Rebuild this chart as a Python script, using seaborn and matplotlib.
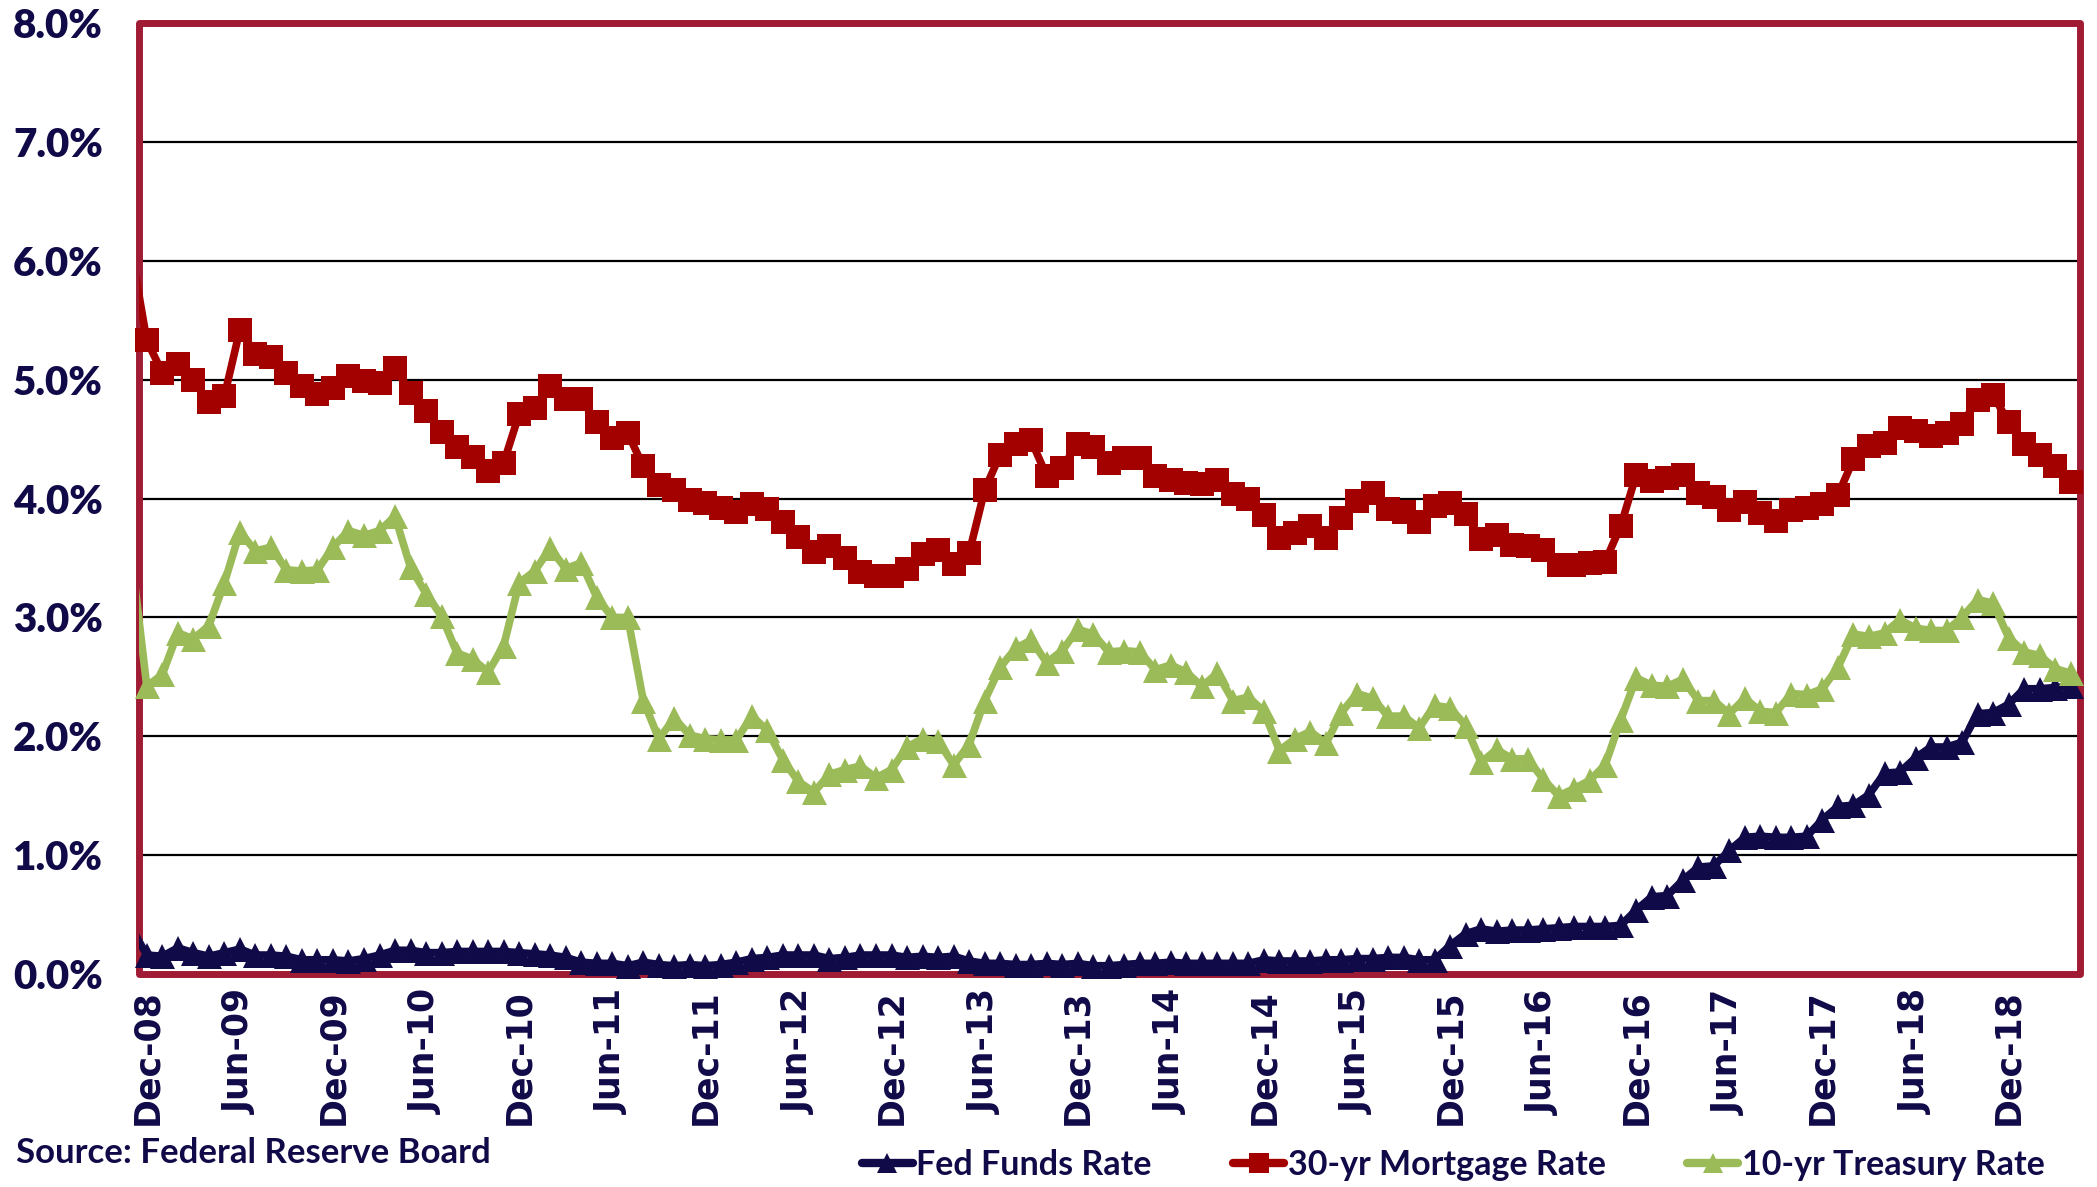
import numpy as np
import pandas as pd
import matplotlib
matplotlib.use("Agg")
import matplotlib.pyplot as plt
from matplotlib.lines import Line2D
from matplotlib.patches import Rectangle
from matplotlib.font_manager import FontProperties
import seaborn as sns

# ---------------- data (monthly, Nov-08 .. Apr-19; Nov-08 only feeds the clipped first segment)
months = pd.date_range("2008-11-01", "2019-04-01", freq="MS")

fed_funds = [0.39, 0.16,
             0.15, 0.22, 0.18, 0.15, 0.18, 0.21, 0.16, 0.16, 0.15, 0.12, 0.12, 0.12,
             0.11, 0.13, 0.16, 0.20, 0.20, 0.18, 0.18, 0.19, 0.19, 0.19, 0.19, 0.18,
             0.17, 0.16, 0.14, 0.10, 0.09, 0.09, 0.07, 0.10, 0.08, 0.07, 0.08, 0.07,
             0.08, 0.10, 0.13, 0.14, 0.16, 0.16, 0.16, 0.13, 0.14, 0.16, 0.16, 0.16,
             0.14, 0.15, 0.14, 0.15, 0.11, 0.09, 0.09, 0.08, 0.08, 0.09, 0.08, 0.09,
             0.07, 0.07, 0.08, 0.09, 0.09, 0.10, 0.09, 0.09, 0.09, 0.09, 0.09, 0.12,
             0.11, 0.11, 0.11, 0.12, 0.12, 0.13, 0.13, 0.14, 0.14, 0.12, 0.12, 0.24,
             0.34, 0.38, 0.36, 0.37, 0.37, 0.38, 0.39, 0.40, 0.40, 0.40, 0.41, 0.54,
             0.65, 0.66, 0.79, 0.90, 0.91, 1.04, 1.15, 1.16, 1.15, 1.15, 1.16, 1.30,
             1.41, 1.42, 1.51, 1.69, 1.70, 1.82, 1.91, 1.91, 1.95, 2.19, 2.20, 2.27,
             2.40, 2.40, 2.41, 2.42]

mortgage = [6.09, 5.33,
            5.06, 5.13, 5.00, 4.81, 4.86, 5.42, 5.22, 5.19, 5.06, 4.95, 4.88, 4.93,
            5.03, 4.99, 4.97, 5.10, 4.89, 4.74, 4.56, 4.43, 4.35, 4.23, 4.30, 4.71,
            4.76, 4.95, 4.84, 4.84, 4.64, 4.51, 4.55, 4.27, 4.11, 4.07, 3.99, 3.96,
            3.92, 3.89, 3.95, 3.91, 3.80, 3.68, 3.55, 3.60, 3.50, 3.38, 3.35, 3.35,
            3.41, 3.53, 3.57, 3.45, 3.54, 4.07, 4.37, 4.46, 4.49, 4.19, 4.26, 4.46,
            4.43, 4.30, 4.34, 4.34, 4.19, 4.16, 4.13, 4.12, 4.16, 4.04, 4.00, 3.86,
            3.67, 3.71, 3.77, 3.67, 3.84, 3.98, 4.05, 3.91, 3.89, 3.80, 3.94, 3.96,
            3.87, 3.66, 3.69, 3.61, 3.60, 3.57, 3.44, 3.44, 3.46, 3.47, 3.77, 4.20,
            4.15, 4.17, 4.20, 4.05, 4.01, 3.90, 3.97, 3.88, 3.81, 3.90, 3.92, 3.95,
            4.03, 4.33, 4.44, 4.47, 4.59, 4.57, 4.53, 4.55, 4.63, 4.83, 4.87, 4.64,
            4.46, 4.37, 4.27, 4.14]

treasury = [3.53, 2.42,
            2.52, 2.87, 2.82, 2.93, 3.29, 3.72, 3.56, 3.59, 3.40, 3.39, 3.40, 3.59,
            3.73, 3.69, 3.73, 3.85, 3.42, 3.20, 3.01, 2.70, 2.65, 2.54, 2.76, 3.29,
            3.39, 3.58, 3.41, 3.46, 3.17, 3.00, 3.00, 2.30, 1.98, 2.15, 2.01, 1.98,
            1.97, 1.97, 2.17, 2.05, 1.80, 1.62, 1.53, 1.68, 1.72, 1.75, 1.65, 1.72,
            1.91, 1.98, 1.96, 1.76, 1.93, 2.30, 2.58, 2.74, 2.81, 2.62, 2.72, 2.90,
            2.86, 2.71, 2.72, 2.71, 2.56, 2.60, 2.54, 2.42, 2.53, 2.30, 2.33, 2.21,
            1.88, 1.98, 2.04, 1.94, 2.20, 2.36, 2.32, 2.17, 2.17, 2.07, 2.26, 2.24,
            2.09, 1.78, 1.89, 1.81, 1.81, 1.64, 1.50, 1.56, 1.63, 1.76, 2.14, 2.49,
            2.43, 2.42, 2.48, 2.30, 2.30, 2.19, 2.32, 2.21, 2.20, 2.36, 2.35, 2.40,
            2.58, 2.86, 2.84, 2.87, 2.98, 2.91, 2.89, 2.89, 3.00, 3.15, 3.12, 2.83,
            2.71, 2.68, 2.57, 2.53]

series_names = ["Fed Funds Rate", "30-yr Mortgage Rate", "10-yr Treasury Rate"]
y_ticks = [0, 1, 2, 3, 4, 5, 6, 7, 8]
source_note = "Source: Federal Reserve Board"

# ---------------- style
NAVY = "#100A48"
RED = "#A30000"
GREEN = "#9BBB59"
BORDER = "#A01C34"

sns.set_style("white")
plt.rcParams["font.family"] = ["Lato", "DejaVu Sans"]

fig = plt.figure(figsize=(20.97, 11.87), dpi=100)
ax = fig.add_axes([0.0663, 0.1794, 0.9256, 0.8012])

x_all = np.arange(len(months)) - 1          # Nov-08 = -1, Dec-08 = 0
x_pts = x_all[1:]

specs = [(fed_funds, NAVY, "^", 18, 3),
         (mortgage, RED, "s", 17, 4),
         (treasury, GREEN, "^", 18, 5)]

for vals, col, mk, ms, z in specs:
    vals = np.asarray(vals)
    sns.lineplot(x=x_all, y=vals, color=col, linewidth=5.5, ax=ax,
                 errorbar=None, zorder=z, legend=False)
    ax.lines[-1].set_solid_joinstyle("round")
    sns.lineplot(x=x_pts, y=vals[1:], color=col, linewidth=0, marker=mk,
                 markersize=ms, markeredgewidth=0, ax=ax, errorbar=None,
                 zorder=z + 0.5, legend=False)
    ax.lines[-1].set_clip_on(False)

ax.set_xlim(-0.5, 124.6)
ax.set_ylim(0, 8)

# gridlines
ax.set_yticks(y_ticks)
ax.set_yticklabels([f"{v:.1f}%" for v in y_ticks])
ax.yaxis.grid(True, color="black", linewidth=1.6, zorder=0)
ax.xaxis.grid(False)
ax.set_axisbelow(True)

tick_pos = list(range(0, 121, 6))
tick_lab = [months[p + 1].strftime("%b-%y") for p in tick_pos]
ax.set_xticks(tick_pos)
ax.set_xticklabels(tick_lab, rotation=90, ha="center", va="top")

for t in ax.get_yticklabels():
    t.set_fontproperties(FontProperties(family="Lato", weight="heavy", size=29))
    t.set_color(NAVY)
for t in ax.get_xticklabels():
    t.set_fontproperties(FontProperties(family="DejaVu Sans", weight="bold", size=25))
    t.set_color(NAVY)

ax.tick_params(axis="y", length=0, pad=26)
ax.tick_params(axis="x", length=0, pad=11)
ax.set_xlabel("")
ax.set_ylabel("")

for s in ax.spines.values():
    s.set_visible(False)
ax.add_patch(Rectangle((0, 0), 1, 1, transform=ax.transAxes, fill=False,
                       edgecolor=BORDER, linewidth=5, joinstyle="round",
                       clip_on=False, zorder=2))

# legend
handles = [Line2D([], [], color=NAVY, lw=6, marker="^", markersize=15, markeredgewidth=0,
                  solid_capstyle="round"),
           Line2D([], [], color=RED, lw=6, marker="s", markersize=14, markeredgewidth=0,
                  solid_capstyle="round"),
           Line2D([], [], color=GREEN, lw=6, marker="^", markersize=15, markeredgewidth=0,
                  solid_capstyle="round")]
fig.legend(handles, series_names, loc="center right",
           bbox_to_anchor=(0.975, 0.0185), ncol=3, frameon=False,
           prop=FontProperties(family="Lato", weight="bold", size=24.5),
           handlelength=1.5, handletextpad=0.1, columnspacing=2.4,
           labelcolor=NAVY, borderpad=0, borderaxespad=0)

fig.text(0.0076, 0.0286, source_note, ha="left", va="center", color=NAVY,
         fontproperties=FontProperties(family="Lato", weight="bold", size=25))

fig.savefig("out.png", dpi=100)
